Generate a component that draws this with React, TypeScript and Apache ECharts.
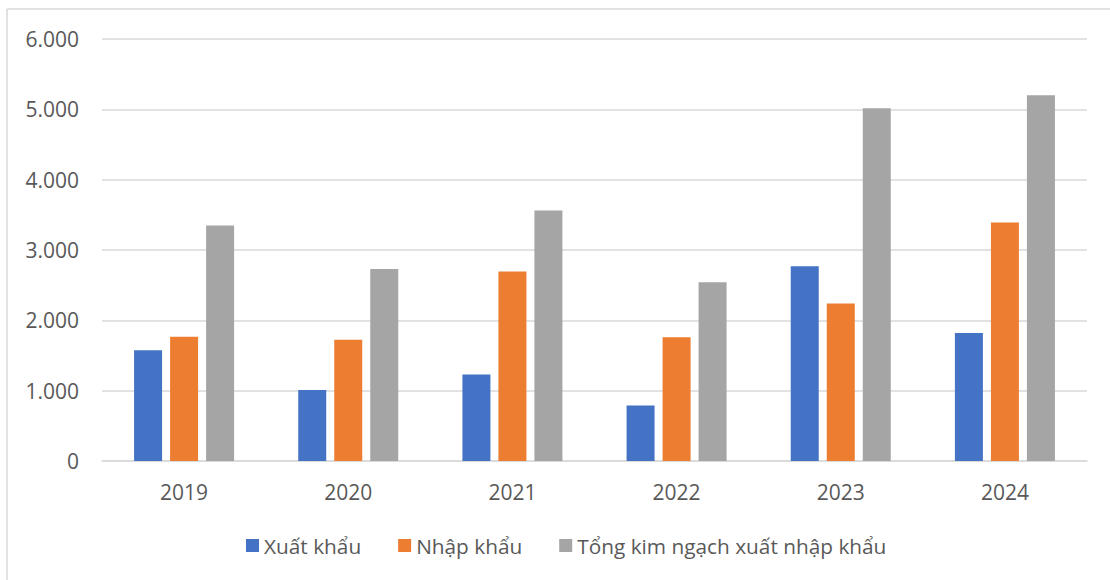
import React, { useEffect, useRef } from "react";
import * as echarts from "echarts";

const years = ["2019", "2020", "2021", "2022", "2023", "2024"];
const exportValues = [1575, 1010, 1230, 790, 2770, 1820];
const importValues = [1765, 1725, 2695, 1760, 2240, 3390];
const totalValues = [3350, 2730, 3560, 2540, 5015, 5200];
const seriesNames = ["Xuất khẩu", "Nhập khẩu", "Tổng kim ngạch xuất nhập khẩu"];
const seriesColors = ["#4472C4", "#ED7D31", "#A5A5A5"];

const fmt = (v: number) => String(v).replace(/\B(?=(\d{3})+(?!\d))/g, ".");

export default function App() {
  const ref = useRef<HTMLDivElement>(null);
  useEffect(() => {
    if (!ref.current) return;
    const chart = echarts.init(ref.current, null, { renderer: "svg" });
    const font = "'Open Sans', 'Noto Sans', sans-serif";
    const data = [exportValues, importValues, totalValues];
    chart.setOption({
      animation: false,
      backgroundColor: "#ffffff",
      textStyle: { fontFamily: font },
      grid: { left: 102, right: 23, top: 39, bottom: 119, containLabel: false },
      legend: {
        left: 241,
        top: 530,
        icon: "rect",
        itemWidth: 13,
        itemHeight: 13,
        itemGap: 37,
        textStyle: { color: "#595959", fontSize: 20.8, fontFamily: font },
        data: seriesNames,
      },
      xAxis: {
        type: "category",
        data: years,
        axisLine: { show: true, lineStyle: { color: "#d9d9d9", width: 1.5 } },
        axisTick: { show: false },
        axisLabel: { color: "#595959", fontSize: 21, margin: 20, fontFamily: font },
      },
      yAxis: {
        type: "value",
        min: 0,
        max: 6000,
        interval: 1000,
        axisLine: { show: false },
        axisTick: { show: false },
        splitLine: { lineStyle: { color: "#d9d9d9", width: 1.5 } },
        axisLabel: {
          color: "#595959",
          fontSize: 21,
          margin: 23,
          fontFamily: font,
          formatter: (v: number) => fmt(v),
        },
      },
      graphic: [
        { type: "line", shape: { x1: 7, y1: 9, x2: 1110, y2: 9 }, style: { stroke: "#d9d9d9", lineWidth: 1.5 } },
        { type: "line", shape: { x1: 7, y1: 9, x2: 7, y2: 580 }, style: { stroke: "#d9d9d9", lineWidth: 1.5 } },
      ],
      series: seriesNames.map((name, i) => ({
        name,
        type: "bar",
        data: data[i],
        barWidth: 28,
        barGap: "28.6%",
        itemStyle: { color: seriesColors[i] },
      })),
    });
    return () => chart.dispose();
  }, []);
  return (
    <div
      ref={ref}
      style={{ position: "fixed", left: 0, top: 0, width: 1110, height: 580 }}
    />
  );
}
